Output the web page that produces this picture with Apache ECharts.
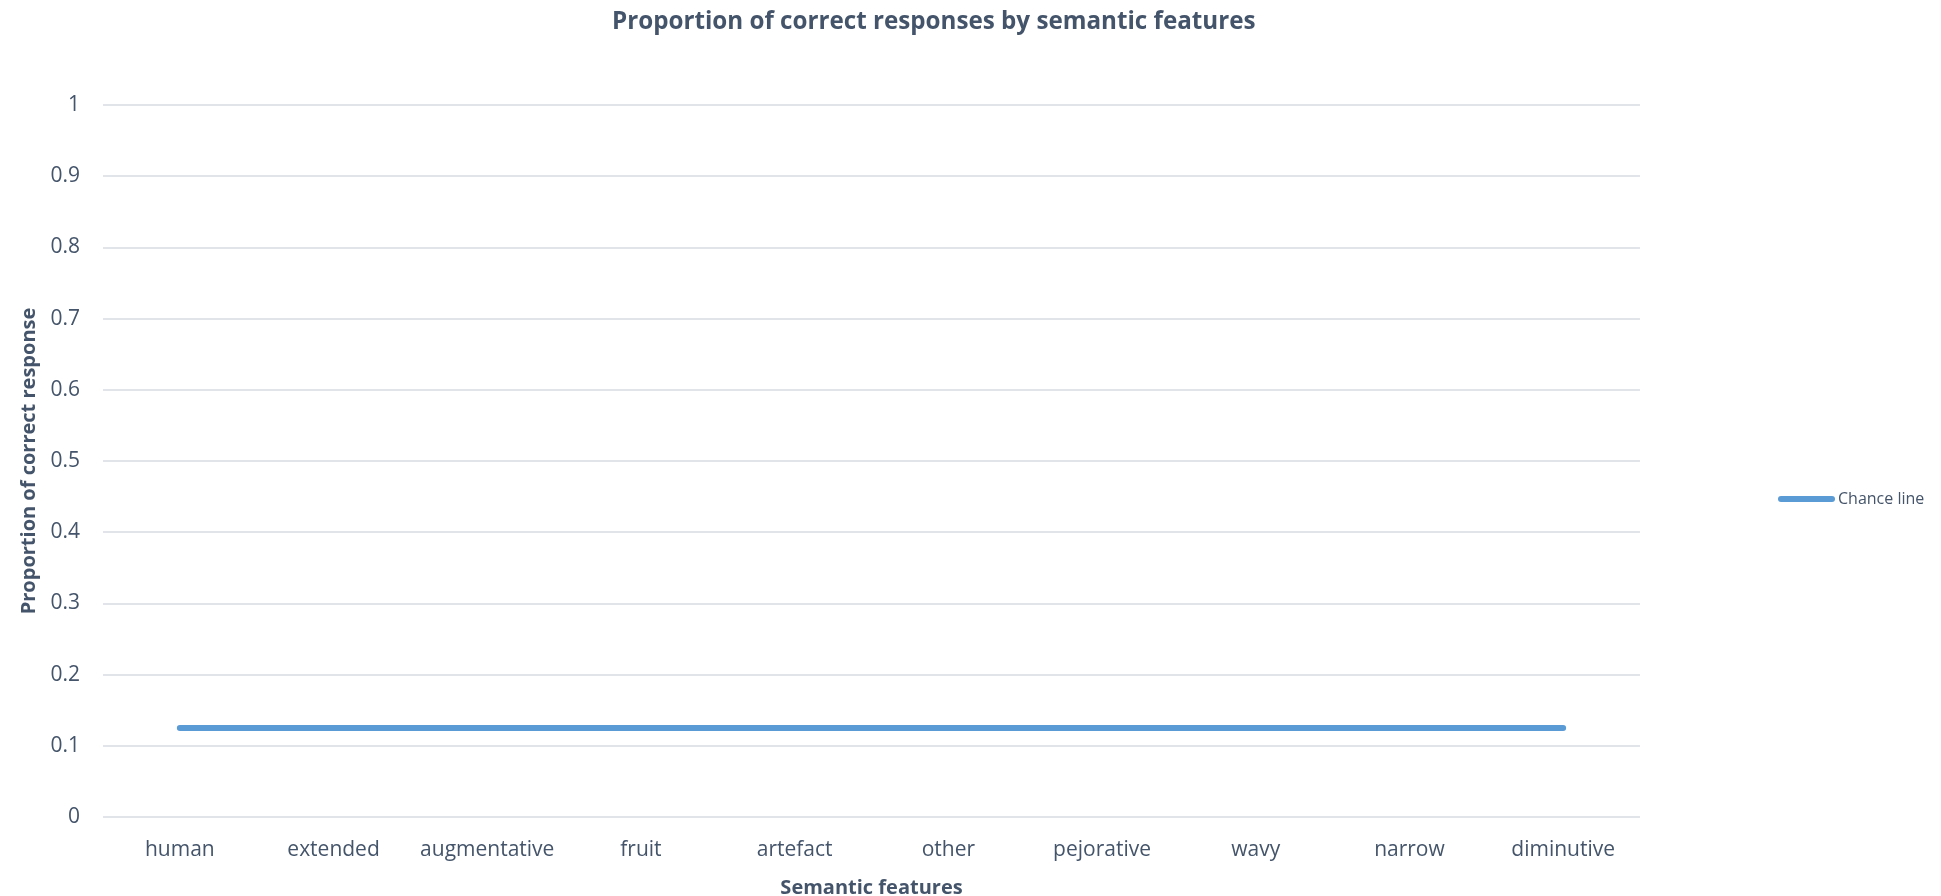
<!DOCTYPE html>
<html>
<head>
<meta charset="utf-8">
<title>Proportion of correct responses by semantic features</title>
<script src="https://cdn.jsdelivr.net/npm/echarts@6/dist/echarts.min.js"></script>
<style>
  html, body { margin: 0; padding: 0; background: #ffffff; }
  #chart { width: 1941px; height: 896px; }
</style>
</head>
<body>
<div id="chart"></div>
<script>
// Semantic feature categories along the x axis
const categories = ['human', 'extended', 'augmentative', 'fruit', 'artefact', 'other', 'pejorative', 'wavy', 'narrow', 'diminutive'];
// Chance level (1 of 8 options) for each category
const chanceLine = [0.125, 0.125, 0.125, 0.125, 0.125, 0.125, 0.125, 0.125, 0.125, 0.125];
// Y tick range
const yMin = 0;
const yMax = 1;
const yStep = 0.1;

const textColor = '#44546a';
const fontFamily = '"Open Sans", "DejaVu Sans", sans-serif';

const chart = echarts.init(document.getElementById('chart'), null, { renderer: 'canvas' });

chart.setOption({
  backgroundColor: '#ffffff',
  animation: false,
  textStyle: { fontFamily: fontFamily, color: textColor },
  title: {
    text: 'Proportion of correct responses by semantic features',
    left: 607,
    top: 5,
    textStyle: { fontFamily: fontFamily, fontSize: 24.2, fontWeight: 'bold', color: textColor }
  },
  legend: {
    data: ['Chance line'],
    left: 1773,
    top: 486,
    orient: 'vertical',
    icon: 'path://M3,0 L54,0 A3,3 0 0 1 54,6 L3,6 A3,3 0 0 1 3,0 Z',
    itemWidth: 57,
    itemHeight: 6,
    itemGap: 4,
    textStyle: { fontFamily: fontFamily, fontSize: 16, color: textColor, padding: [0, 0, 0, -2] }
  },
  grid: {
    left: 103,
    right: 301,
    top: 105,
    bottom: 79,
    containLabel: false,
    outerBoundsMode: 'none'
  },
  xAxis: {
    type: 'category',
    data: categories,
    boundaryGap: true,
    name: 'Semantic features',
    nameLocation: 'middle',
    nameGap: 61,
    nameTextStyle: { fontFamily: fontFamily, fontSize: 20, fontWeight: 'bold', color: textColor },
    axisLine: { show: false },
    axisTick: { show: false },
    axisLabel: { fontFamily: fontFamily, fontSize: 21, color: textColor, margin: 23, interval: 0 }
  },
  yAxis: {
    type: 'value',
    min: yMin,
    max: yMax,
    interval: yStep,
    name: 'Proportion of correct response',
    nameLocation: 'middle',
    nameGap: 63,
    nameRotate: 90,
    nameTextStyle: { fontFamily: fontFamily, fontSize: 20, fontWeight: 'bold', color: textColor },
    axisLine: { show: false },
    axisTick: { show: false },
    axisLabel: { fontFamily: fontFamily, fontSize: 21, color: textColor, margin: 23 },
    splitLine: { show: true, lineStyle: { color: '#e1e4e9', width: 2 } }
  },
  series: [{
    name: 'Chance line',
    type: 'line',
    data: chanceLine,
    symbol: 'none',
    color: '#5b9bd5',
    lineStyle: { color: '#5b9bd5', width: 6, cap: 'round' }
  }]
});
</script>
</body>
</html>
